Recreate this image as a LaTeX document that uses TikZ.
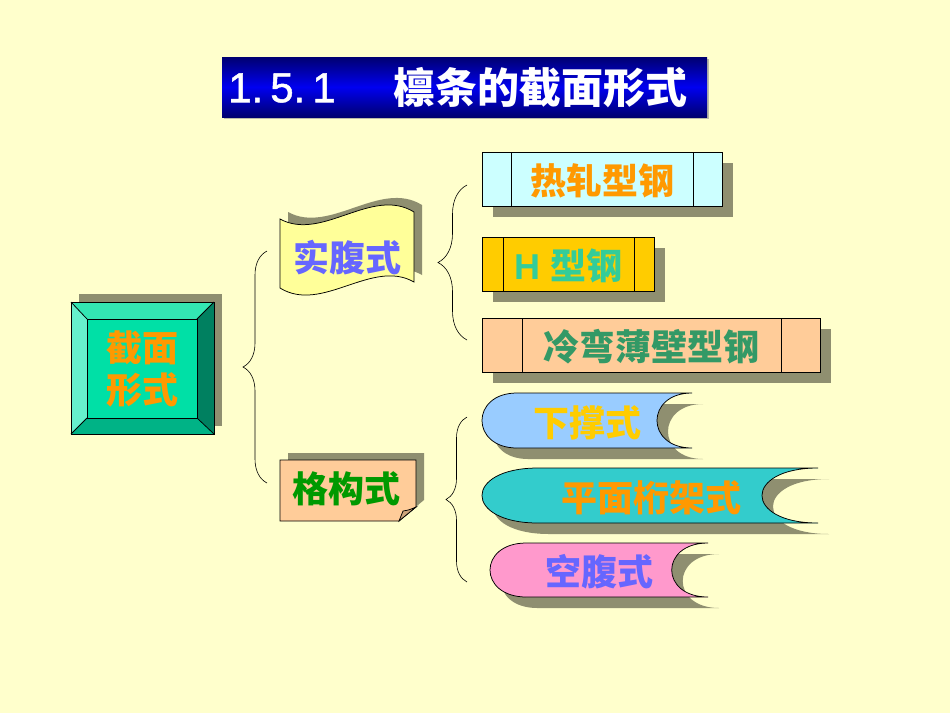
\documentclass[tikz,border=0pt]{standalone}
\usepackage{fontspec}
\setmainfont{Liberation Sans}
\newfontfamily\cjk{Noto Sans CJK SC}
\newfontfamily\numfont[FakeBold=1.2]{Liberation Sans}
\usetikzlibrary{decorations.pathreplacing}
\definecolor{bgc}{HTML}{FFFFCC}
\definecolor{shadowc}{HTML}{8F8F70}
\definecolor{navyc}{HTML}{000070}
\definecolor{bluec}{HTML}{0000F0}
\definecolor{orangec}{HTML}{FF9900}
\definecolor{purplec}{HTML}{6666FF}
\definecolor{greenc}{HTML}{009900}
\definecolor{tealc}{HTML}{33CC99}
\definecolor{seac}{HTML}{339966}
\definecolor{goldc}{HTML}{FFCC00}
\definecolor{peachc}{HTML}{FFCC99}
\definecolor{foldc}{HTML}{CCA37A}
\definecolor{cyanc}{HTML}{CCFFFF}
\definecolor{scrollc}{HTML}{FFFF99}
\definecolor{skyc}{HTML}{99CCFF}
\definecolor{turqc}{HTML}{33CCCC}
\definecolor{pinkc}{HTML}{FF99CC}
\definecolor{bevtc}{RGB}{51,230,179}
\definecolor{bevlc}{RGB}{102,240,204}
\definecolor{bevrc}{RGB}{0,128,96}
\definecolor{bevbc}{RGB}{0,179,134}
\definecolor{bevmc}{RGB}{0,224,166}
\begin{document}
\begin{tikzpicture}[x=1pt,y=-1pt,line width=0.75pt,
  lbl/.style={font=\cjk\bfseries\fontsize{36}{42}\selectfont,inner sep=0pt,align=center},
  ttl/.style={font=\numfont\fontsize{42}{46}\selectfont,text=white,inner sep=0pt},
  shadowbr/.style={preaction={fill=shadowc,draw=none,transform canvas={shift={(11,11)}}}},
  shadowtr/.style={preaction={fill=shadowc,draw=none,transform canvas={shift={(8,-7)}}}},
  brc/.style={decorate,decoration={brace,amplitude=#1}}]
\useasboundingbox (0,0) rectangle (950,713);
\fill[bgc] (0,0) rectangle (950,713);
% title
\fill[shadowc!60] (224,59) rectangle (709,119);
\shade[top color=navyc,bottom color=navyc,middle color=bluec] (222,57) rectangle (707,117);
\node[ttl] (num) at (282,88) {1.\,5.\,1};
\node[ttl,font=\cjk\bfseries\fontsize{42}{46}\selectfont] (ttl) at (540,88) {檩条的截面形式};
% bevel box
\fill[shadowc] (79,294) rectangle (222,426);
\fill[bevtc] (71,302) -- (214,302) -- (197,319) -- (87,319) -- cycle;
\fill[bevlc] (71,302) -- (87,319) -- (87,418) -- (71,434) -- cycle;
\fill[bevrc] (214,302) -- (214,434) -- (197,418) -- (197,319) -- cycle;
\fill[bevbc] (71,434) -- (87,418) -- (197,418) -- (214,434) -- cycle;
\draw[fill=bevmc] (87,319) rectangle (197,418);
\draw (71,302) -- (87,319) (214,302) -- (197,319) (71,434) -- (87,418) (214,434) -- (197,418);
\draw (71,302) rectangle (214,434);
\node[lbl,text=orangec] (jm) at (142,369) {截面\\形式};
% second level
\draw[shadowtr,fill=scrollc] (280,219) .. controls (322,242) and (372,186) .. (414,212) -- (414,282)
  .. controls (372,258) and (322,314) .. (280,288) -- cycle;
\node[lbl,text=purplec] (sf) at (347,258) {实腹式};
\draw[shadowtr,fill=peachc] (280,460) -- (416,460) -- (416,507) -- (399,521) -- (280,521) -- cycle;
\draw[fill=foldc] (399,521) .. controls (401,516) .. (403,511) .. controls (409,510) .. (416,507) -- cycle;
\node[lbl,text=greenc] (gg) at (346,489) {格构式};
% third level: rolled sections
\draw[shadowbr,fill=cyanc] (482,152) rectangle (722,206);
\draw (511,152) -- (511,206) (693,152) -- (693,206);
\node[lbl,text=orangec] (rz) at (602,181) {热轧型钢};
\draw[shadowbr,fill=goldc] (482,237) rectangle (654,291);
\draw (503,237) -- (503,291) (634,237) -- (634,291);
\node[lbl,text=tealc] (hx) at (568,266) {\rmfamily\bfseries H \cjk 型钢};
\draw[shadowbr,fill=peachc] (482,318) rectangle (820,372);
\draw (522,318) -- (522,372) (781,318) -- (781,372);
\node[lbl,text=seac] (lw) at (651,347) {冷弯薄壁型钢};
% third level: trusses
\draw[shadowbr,fill=skyc] (517,393) -- (692,393) .. controls (645.3,393) and (645.3,448) .. (692,448)
  -- (517,448) .. controls (470.3,448) and (470.3,393) .. (517,393) -- cycle;
\node[lbl,text=goldc] (xc) at (587,423) {下撑式};
\draw[shadowbr,fill=turqc] (538,468) -- (818,468) .. controls (743.3,468) and (743.3,523) .. (818,523)
  -- (538,523) .. controls (463.3,523) and (463.3,468) .. (538,468) -- cycle;
\node[lbl,text=orangec] (pm) at (651,498) {平面桁架式};
\draw[shadowbr,fill=pinkc] (526.3,543) -- (708,543) .. controls (659.6,543) and (659.6,597) .. (708,597)
  -- (526.3,597) .. controls (477.9,597) and (477.9,543) .. (526.3,543) -- cycle;
\node[lbl,text=purplec] (kf) at (599,572) {空腹式};
% braces
\coordinate (b1t) at (267,251);
\coordinate (b1b) at (267,483);
\coordinate (b2t) at (467,185);
\coordinate (b2b) at (467,340);
\coordinate (b3t) at (467,417);
\coordinate (b3b) at (467,582);
\draw[brc=24pt,line width=0.6pt] (b1b) -- (b1t);
\draw[brc=29pt,line width=0.6pt] (b2b) -- (b2t);
\draw[brc=21pt,line width=0.6pt] (b3b) -- (b3t);
\end{tikzpicture}
\end{document}
